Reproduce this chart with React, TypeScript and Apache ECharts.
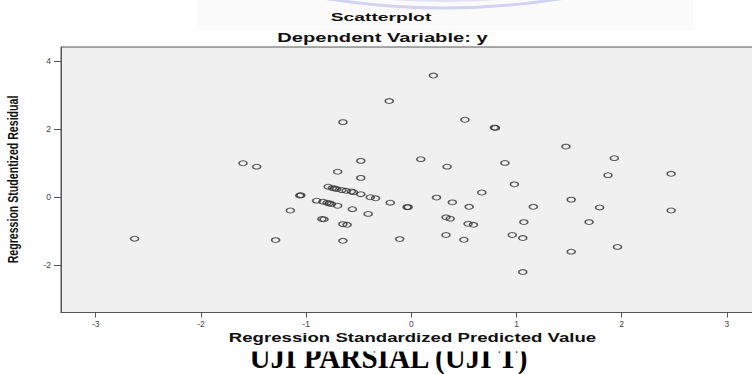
import React, { useEffect, useRef } from "react";
import * as echarts from "echarts";

const chartTitle = "Scatterplot";
const chartSubtitle = "Dependent Variable: y";
const xAxisTitle = "Regression Standardized Predicted Value";
const yAxisTitle = "Regression Studentized Residual";
const footerText = "UJI PARSIAL (UJI T)";

const xTickValues = [-3, -2, -1, 0, 1, 2, 3];
const yTickValues = [-2, 0, 2, 4];

// Regression Standardized Predicted Value
const predicted = [
  -1.6, -1.47, -1.06, -1.05, -1.15, -1.29, -2.63,
  0.21, -0.21, -0.65, 0.51, 0.79, 0.8,
  -0.48, -0.7, -0.48, 0.09, 0.34, 0.89, 0.98, 0.67, 0.24, 0.39, 0.55, 1.16,
  -0.79, -0.75, -0.73, -0.71, -0.66, -0.62, -0.57, -0.55, -0.48, -0.39, -0.34,
  -0.2, -0.04, -0.03,
  -0.9, -0.84, -0.8, -0.78, -0.76, -0.7,
  -0.56, -0.41, -0.85, -0.83, -0.65, -0.61,
  -0.65, -0.11, 0.33, 0.37, 0.54, 0.59, 0.33, 0.5, 0.96, 1.06, 1.07, 1.06,
  1.47, 1.93, 1.87, 2.47, 1.52, 1.79, 2.47, 1.69, 1.52, 1.96,
];

// Regression Studentized Residual
const residual = [
  0.99, 0.89, 0.04, 0.05, -0.4, -1.27, -1.23,
  3.57, 2.82, 2.2, 2.27, 2.04, 2.03,
  1.06, 0.74, 0.56, 1.11, 0.89, 1.0, 0.37, 0.13, -0.02, -0.16, -0.29, -0.29,
  0.3, 0.26, 0.25, 0.23, 0.2, 0.18, 0.16, 0.14, 0.08, -0.01, -0.04,
  -0.17, -0.3, -0.3,
  -0.11, -0.14, -0.17, -0.19, -0.21, -0.26,
  -0.36, -0.5, -0.65, -0.66, -0.8, -0.82,
  -1.29, -1.24, -0.6, -0.64, -0.79, -0.82, -1.12, -1.26, -1.12, -1.21, -0.74, -2.21,
  1.48, 1.14, 0.64, 0.68, -0.08, -0.31, -0.4, -0.74, -1.61, -1.47,
];

const SANS = "'Liberation Sans', Arial, sans-serif";
const SERIF = "'Liberation Serif', 'Times New Roman', serif";

function stretchedText(
  text: string,
  x: number,
  y: number,
  fontSize: number,
  opts: { scaleX?: number; scaleY?: number; rotation?: number; z?: number; family?: string; fill?: string } = {}
) {
  return {
    type: "text",
    x,
    y,
    scaleX: opts.scaleX ?? 1,
    scaleY: opts.scaleY ?? 1,
    rotation: opts.rotation ?? 0,
    z: opts.z ?? 20,
    silent: true,
    style: {
      text,
      fontSize,
      fontWeight: "bold",
      fontFamily: opts.family ?? SANS,
      fill: opts.fill ?? "#111",
      align: "center",
      verticalAlign: "middle",
      textAlign: "center",
      textVerticalAlign: "middle",
    },
  };
}

export default function App() {
  const ref = useRef<HTMLDivElement>(null);

  useEffect(() => {
    if (!ref.current) return;
    const chart = echarts.init(ref.current, null, { renderer: "svg" });
    const points = predicted.map((p, i) => [p, residual[i]]);

    chart.setOption({
      animation: false,
      backgroundColor: "#ffffff",
      grid: {
        left: 61,
        top: 47,
        right: 38.4,
        bottom: 61.5,
        show: true,
        backgroundColor: "#f0f0f0",
        borderColor: "#555555",
        borderWidth: 1,
      },
      xAxis: {
        type: "value",
        min: -3.33,
        max: 3.33,
        splitLine: { show: false },
        axisLine: { show: true, onZero: false, lineStyle: { color: "#555555", width: 1 } },
        axisTick: { show: true, length: 5, customValues: xTickValues, lineStyle: { color: "#555555" } },
        axisLabel: {
          customValues: xTickValues,
          fontSize: 8.5,
          color: "#444444",
          fontFamily: SANS,
          margin: 7,
        },
      },
      yAxis: {
        type: "value",
        min: -3.4,
        max: 4.41,
        splitLine: { show: false },
        axisLine: { show: true, onZero: false, lineStyle: { color: "#555555", width: 1 } },
        axisTick: { show: true, length: 7, customValues: yTickValues, lineStyle: { color: "#555555" } },
        axisLabel: {
          customValues: yTickValues,
          fontSize: 8.5,
          color: "#444444",
          fontFamily: SANS,
          margin: 10,
        },
      },
      series: [
        {
          type: "scatter",
          data: points,
          symbol: "circle",
          symbolSize: [8, 4.8],
          itemStyle: {
            color: "rgba(0,0,0,0)",
            borderColor: "#333333",
            borderWidth: 1.3,
          },
          emphasis: { disabled: true },
          z: 5,
        },
      ],
      graphic: [
        {
          type: "rect",
          z: 0,
          silent: true,
          shape: { x: 197, y: 0, width: 496, height: 30 },
          style: { fill: "#fafafa" },
        },
        {
          type: "arc",
          z: 1,
          silent: true,
          shape: { cx: 444, cy: -725, r: 733, startAngle: Math.PI * 0.4, endAngle: Math.PI * 0.6 },
          style: { stroke: "#d2d2f2", lineWidth: 3, fill: "none" },
        },
        {
          type: "arc",
          z: 1,
          silent: true,
          shape: { cx: 444, cy: -725, r: 726, startAngle: Math.PI * 0.42, endAngle: Math.PI * 0.58 },
          style: { stroke: "#e2e2f7", lineWidth: 2, fill: "none" },
        },
        stretchedText(chartTitle, 381, 17, 11.2, { scaleX: 1.72 }),
        stretchedText(chartSubtitle, 382.5, 38.5, 12, { scaleX: 1.68 }),
        stretchedText(xAxisTitle, 412.5, 338, 12.5, { scaleX: 1.49 }),
        stretchedText(yAxisTitle, 13, 179.5, 10.6, { rotation: Math.PI / 2, scaleY: 1.35 }),
        stretchedText(footerText, 388.5, 357.7, 32, { scaleX: 0.91, family: SERIF, z: 5, fill: "#000" }),
        {
          type: "rect",
          z: 10,
          silent: true,
          shape: { x: 230, y: 345, width: 320, height: 6.5 },
          style: { fill: "#ffffff" },
        },
      ],
    });

    return () => chart.dispose();
  }, []);

  return (
    <div
      style={{
        position: "fixed",
        left: 0,
        top: 0,
        width: 752,
        height: 374,
        overflow: "hidden",
        background: "#ffffff",
      }}
    >
      <div ref={ref} style={{ width: 800, height: 374 }} />
    </div>
  );
}
